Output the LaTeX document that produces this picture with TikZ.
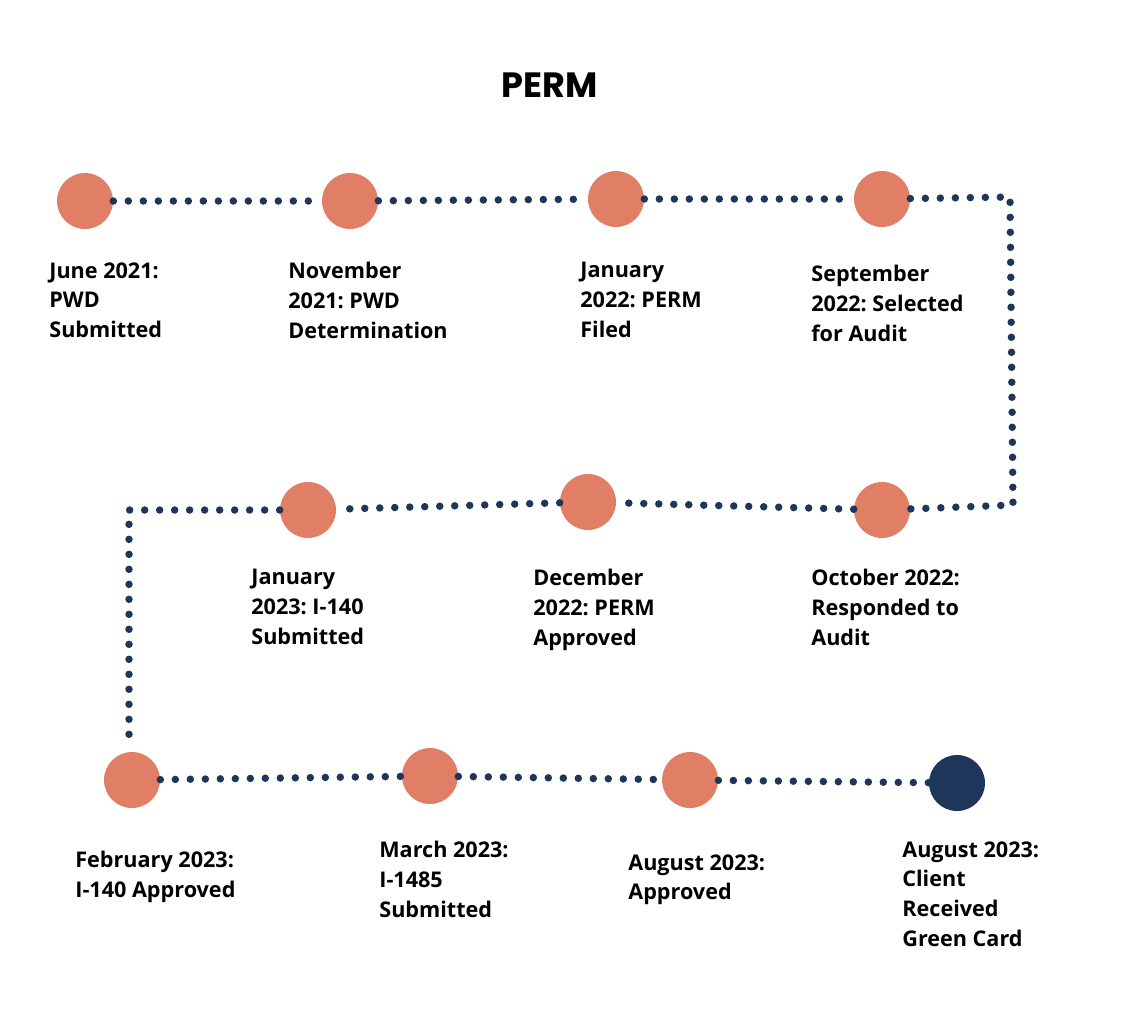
\documentclass[tikz,border=0pt]{standalone}
\usepackage{fontspec}
\setmainfont{Open Sans}
\newfontfamily\titlefont{Poppins}
\usetikzlibrary{positioning}
\frenchspacing

\definecolor{coral}{HTML}{E07F65}
\definecolor{navy}{HTML}{1F365C}

\begin{document}
\begin{tikzpicture}[
    x=0.02cm, y=-0.02cm,
    stop/.style={circle, fill=coral, minimum size=1.12cm, inner sep=0pt},
    goal/.style={stop, fill=navy},
    lbl/.style={anchor=north west, align=left, inner sep=0pt,
        font=\fontsize{12.3}{17}\selectfont\bfseries},
    trail/.style={draw=navy, line width=0.15cm, line cap=round,
        dash pattern=on 0pt off 0.3cm}
]
\useasboundingbox (0,0) rectangle (1138,1018);

\node (title) at (550,85) {\titlefont\bfseries\fontsize{20}{24}\selectfont PERM};

% first row
\node (jun21) at (85,201)  [stop] {};
\node (nov21) at (350,201) [stop] {};
\node (jan22) at (616,199) [stop] {};
\node (sep22) at (882,199) [stop] {};
\coordinate (tr) at (1010,197);
\coordinate (mr) at (1013,505);

% second row
\node (oct22) at (882,510) [stop] {};
\node (dec22) at (588,502) [stop] {};
\node (jan23) at (308,510) [stop] {};
\coordinate (ml) at (129,510);
\coordinate (bl) at (129,744);

% third row
\node (feb23) at (132,780) [stop] {};
\node (mar23) at (430,776) [stop] {};
\node (aug23) at (690,780) [stop] {};
\node (card)  at (957,783) [goal] {};

\draw[trail] (jun21) -- (nov21);
\draw[trail] (nov21) -- (jan22);
\draw[trail] (jan22) -- (sep22);
\draw[trail] (sep22) -- (tr) -- (mr) -- (oct22);
\draw[trail] (oct22) -- (dec22);
\draw[trail] (dec22) -- (jan23);
\draw[trail] (jan23) -- (ml) -- (bl);
\draw[trail] (feb23) -- (mar23);
\draw[trail] (mar23) -- (aug23);
\draw[trail] (aug23) -- (card);

% labels
\node (t1)  at (49,262)  [lbl] {June 2021:\\PWD\\Submitted};
\node (t2)  at (288,262) [lbl] {November\\2021: PWD\\Determination};
\node (t3)  at (580,262) [lbl] {January\\2022: PERM\\Filed};
\node (t4)  at (811,265) [lbl] {September\\2022: Selected\\for Audit};
\node (t5)  at (811,569) [lbl] {October 2022:\\Responded to\\Audit};
\node (t6)  at (533,569) [lbl] {December\\2022: PERM\\Approved};
\node (t7)  at (251,569) [lbl] {January\\2023: I-140\\Submitted};
\node (t8)  at (75,851)  [lbl] {February 2023:\\I-140 Approved};
\node (t9)  at (379,841) [lbl] {March 2023:\\I-1485\\Submitted};
\node (t10) at (628,854) [lbl] {August 2023:\\Approved};
\node (t11) at (902,841) [lbl] {August 2023:\\Client\\Received\\Green Card};
\end{tikzpicture}
\end{document}
